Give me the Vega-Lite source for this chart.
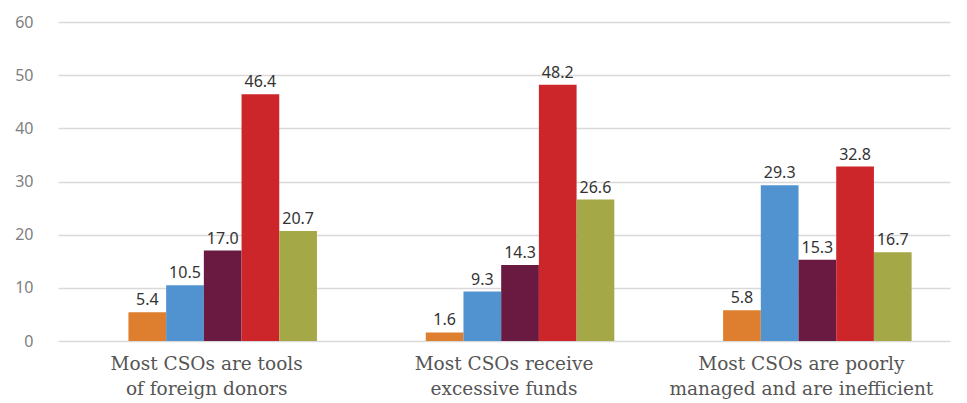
{
  "$schema": "https://vega.github.io/schema/vega-lite/v6.json",
  "autosize": "none",
  "width": 892,
  "height": 319,
  "padding": {"left": 58, "top": 22, "right": 17, "bottom": 62},
  "background": "white",
  "config": {"view": {"stroke": null}},
  "data": {
    "values": [
      {"cat": "Most CSOs are tools|of foreign donors", "series": "S1", "value": 5.4},
      {"cat": "Most CSOs are tools|of foreign donors", "series": "S2", "value": 10.5},
      {"cat": "Most CSOs are tools|of foreign donors", "series": "S3", "value": 17.0},
      {"cat": "Most CSOs are tools|of foreign donors", "series": "S4", "value": 46.4},
      {"cat": "Most CSOs are tools|of foreign donors", "series": "S5", "value": 20.7},
      {"cat": "Most CSOs receive|excessive funds", "series": "S1", "value": 1.6},
      {"cat": "Most CSOs receive|excessive funds", "series": "S2", "value": 9.3},
      {"cat": "Most CSOs receive|excessive funds", "series": "S3", "value": 14.3},
      {"cat": "Most CSOs receive|excessive funds", "series": "S4", "value": 48.2},
      {"cat": "Most CSOs receive|excessive funds", "series": "S5", "value": 26.6},
      {"cat": "Most CSOs are poorly|managed and are inefficient", "series": "S1", "value": 5.8},
      {"cat": "Most CSOs are poorly|managed and are inefficient", "series": "S2", "value": 29.3},
      {"cat": "Most CSOs are poorly|managed and are inefficient", "series": "S3", "value": 15.3},
      {"cat": "Most CSOs are poorly|managed and are inefficient", "series": "S4", "value": 32.8},
      {"cat": "Most CSOs are poorly|managed and are inefficient", "series": "S5", "value": 16.7}
    ]
  },
  "encoding": {
    "x": {
      "field": "cat", "type": "nominal", "sort": null, "title": null,
      "scale": {"paddingInner": 0, "paddingOuter": 0},
      "axis": {
        "labelAngle": 0, "domain": false, "ticks": false, "labelLimit": 0,
        "labelExpr": "split(datum.label, '|')",
        "labelFont": "DejaVu Serif", "labelFontSize": 18.5, "labelColor": "#555555",
        "labelLineHeight": 25, "labelPadding": 13, "labelBaseline": "top"
      }
    },
    "xOffset": {
      "field": "series", "type": "nominal",
      "scale": {"domain": ["_a", "S1", "S2", "S3", "S4", "S5", "_b"], "paddingInner": 0, "paddingOuter": 0.443, "align": 0.98}
    },
    "y": {
      "field": "value", "type": "quantitative", "title": null,
      "scale": {"domain": [0, 60], "nice": false},
      "axis": {
        "values": [0, 10, 20, 30, 40, 50, 60], "domain": false, "ticks": false,
        "labelPadding": 25, "labelFont": "Noto Sans", "labelFontSize": 16,
        "labelColor": "#7f7f7f", "gridColor": "#d9d9d9", "gridWidth": 1.5
      }
    }
  },
  "layer": [
    {
      "mark": {"type": "bar"},
      "encoding": {
        "color": {
          "field": "series", "type": "nominal", "legend": null,
          "scale": {"domain": ["S1", "S2", "S3", "S4", "S5"],
                    "range": ["#DD7F2E", "#5093D0", "#6A1A40", "#CC252A", "#A5A846"]}
        }
      }
    },
    {
      "mark": {"type": "text", "baseline": "alphabetic", "dy": -7, "font": "Noto Sans", "fontSize": 16, "color": "#333333"},
      "encoding": {"text": {"field": "value", "type": "quantitative", "format": ".1f"}}
    }
  ]
}
